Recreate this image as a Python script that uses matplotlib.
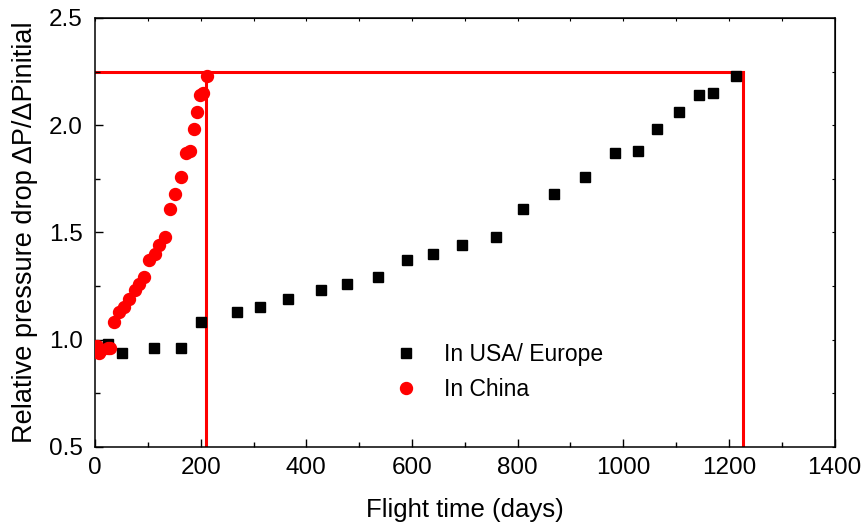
import numpy as np
from matplotlib import pyplot as plt
from matplotlib.ticker import MultipleLocator

plt.rcParams['font.family'] = ['Liberation Sans', 'DejaVu Sans']

# In USA / Europe (black squares)
usa_days = [24, 51, 112, 163, 200, 269, 312, 366, 427, 477, 535, 591, 640, 694,
            759, 810, 868, 927, 985, 1028, 1063, 1105, 1143, 1169, 1214]
usa_ratio = [0.98, 0.94, 0.96, 0.96, 1.08, 1.13, 1.15, 1.19, 1.23, 1.26, 1.29, 1.37,
             1.40, 1.44, 1.48, 1.61, 1.68, 1.76, 1.87, 1.88, 1.98, 2.06, 2.14, 2.15, 2.23]

# In China (red circles)
china_days = [3, 8, 12, 24, 28, 35, 46, 54, 64, 76, 83, 92, 103, 113, 121, 133,
              141, 152, 163, 173, 180, 187, 193, 199, 204, 211]
china_ratio = [0.97, 0.94, 0.95, 0.96, 0.96, 1.08, 1.13, 1.15, 1.19, 1.23, 1.26, 1.29,
               1.37, 1.40, 1.44, 1.48, 1.61, 1.68, 1.76, 1.87, 1.88, 1.98, 2.06, 2.14,
               2.15, 2.23]

# red guide lines
limit_ratio = 2.25
china_end = 210
usa_end = 1226

fig = plt.figure(figsize=(8.64, 5.27), dpi=100)
ax = fig.add_axes([0.110, 0.152, 0.856, 0.814])

ax.plot([0, usa_end], [limit_ratio, limit_ratio], color='red', lw=2.2, zorder=1)
ax.plot([china_end, china_end], [0.5, limit_ratio], color='red', lw=2.2, zorder=1)
ax.plot([usa_end, usa_end], [0.5, limit_ratio], color='red', lw=2.2, zorder=1)

ax.plot(usa_days, usa_ratio, 's', color='black', ms=7.2, label='In USA/ Europe', zorder=3)
ax.plot(china_days, china_ratio, 'o', color='red', ms=8.6, label='In China', zorder=4)

ax.set_xlim(0, 1400)
ax.set_ylim(0.5, 2.5)
ax.xaxis.set_major_locator(MultipleLocator(200))
ax.xaxis.set_minor_locator(MultipleLocator(100))
ax.yaxis.set_major_locator(MultipleLocator(0.5))
ax.yaxis.set_minor_locator(MultipleLocator(0.25))
ax.yaxis.set_major_formatter(plt.FormatStrFormatter('%.1f'))
ax.tick_params(which='major', direction='in', length=6, width=1, labelsize=17.5)
ax.tick_params(axis='y', which='major', pad=9)
ax.tick_params(axis='x', which='major', pad=7)
ax.tick_params(which='minor', direction='in', length=3.5, width=1)
for s in ax.spines.values():
    s.set_linewidth(1.1)

top = ax.secondary_xaxis('top')
top.xaxis.set_major_locator(MultipleLocator(100))
top.tick_params(direction='in', length=2, labeltop=False)
right = ax.secondary_yaxis('right')
right.yaxis.set_major_locator(MultipleLocator(0.25))
right.tick_params(direction='in', length=2, labelright=False)

ax.set_xlabel('Flight time (days)', fontsize=18.5, labelpad=14)
ax.set_ylabel('Relative pressure drop \u0394P/\u0394Pinitial', fontsize=19.5, labelpad=8)

ax.legend(loc='upper left', bbox_to_anchor=(0.37, 0.29), frameon=False, fontsize=16.5,
          handletextpad=0.9, labelspacing=0.5, handlelength=1.5)

fig.savefig('out.png', dpi=100)
